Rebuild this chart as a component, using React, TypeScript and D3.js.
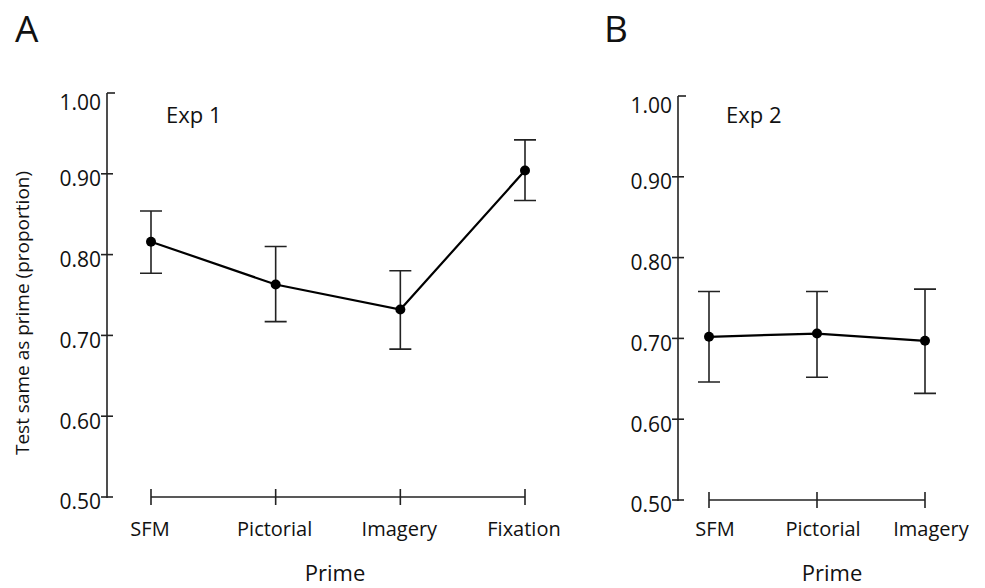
import React, { useEffect, useRef } from 'react';
import * as d3 from 'd3';

// Exp 1 (panel A)
const exp1Primes = ['SFM', 'Pictorial', 'Imagery', 'Fixation'];
const exp1Means = [0.816, 0.763, 0.732, 0.904];
const exp1Upper = [0.854, 0.810, 0.780, 0.942];
const exp1Lower = [0.777, 0.717, 0.683, 0.867];

// Exp 2 (panel B)
const exp2Primes = ['SFM', 'Pictorial', 'Imagery'];
const exp2Means = [0.702, 0.706, 0.697];
const exp2Upper = [0.758, 0.758, 0.761];
const exp2Lower = [0.646, 0.652, 0.632];

const yTicks = [0.5, 0.6, 0.7, 0.8, 0.9, 1.0];

const FONT = "'Open Sans', 'Liberation Sans', sans-serif";
const INK = '#111';
const AXIS = '#222';

const App = () => {
    const svgRef = useRef<SVGSVGElement>(null);

    useEffect(() => {
        const svg = d3.select(svgRef.current);
        svg.selectAll('*').remove();

        const drawPanel = (opts: any) => {
            const { letter, letterX, title, titleX, primes, means, upper, lower,
                yAxisX, yTop, yBottom, xLeft, xRight, labelDx, primeX, showYTitle } = opts;

            const y = d3.scaleLinear().domain([0.5, 1.0]).range([yBottom, yTop]);
            const x = d3.scalePoint<string>().domain(primes).range([xLeft, xRight]);

            const g = svg.append('g');

            //panel letter
            g.append('text')
                .attr('x', letterX)
                .attr('y', 42)
                .attr('font-family', FONT)
                .attr('font-size', 37)
                .attr('fill', INK)
                .text(letter);

            //y axis line
            g.append('line')
                .attr('x1', yAxisX).attr('x2', yAxisX)
                .attr('y1', y(1.0)).attr('y2', y(0.5) + 1)
                .attr('stroke', AXIS).attr('stroke-width', 1.6);

            //y ticks, crossing the axis (top one only on the right)
            g.selectAll('.ytick')
                .data(yTicks)
                .enter().append('line')
                .attr('x1', d => (d === 1.0 ? yAxisX : yAxisX - 6))
                .attr('x2', d => (d === 1.0 ? yAxisX + 8 : yAxisX + 6))
                .attr('y1', d => y(d)).attr('y2', d => y(d))
                .attr('stroke', AXIS).attr('stroke-width', 1.6);

            g.selectAll('.ylab')
                .data(yTicks)
                .enter().append('text')
                .attr('x', yAxisX - 6)
                .attr('y', d => y(d) + (d === 1.0 ? 10 : 5))
                .attr('dy', '0.35em')
                .attr('text-anchor', 'end')
                .attr('font-family', FONT)
                .attr('font-size', 21)
                .attr('fill', INK)
                .text(d => d3.format('.2f')(d));

            //x axis line and ticks
            const xBase = y(0.5);
            g.append('line')
                .attr('x1', xLeft).attr('x2', xRight)
                .attr('y1', xBase).attr('y2', xBase)
                .attr('stroke', AXIS).attr('stroke-width', 1.6);

            g.selectAll('.xtick')
                .data(primes)
                .enter().append('line')
                .attr('x1', d => x(d)).attr('x2', d => x(d))
                .attr('y1', xBase - 8).attr('y2', xBase + 8)
                .attr('stroke', AXIS).attr('stroke-width', 1.6);

            g.selectAll('.xlab')
                .data(primes)
                .enter().append('text')
                .attr('x', d => (x(d) as number) + labelDx)
                .attr('y', 536)
                .attr('text-anchor', 'middle')
                .attr('font-family', FONT)
                .attr('font-size', 20)
                .attr('fill', INK)
                .text(d => d);

            //x axis title
            g.append('text')
                .attr('x', primeX)
                .attr('y', 581)
                .attr('text-anchor', 'middle')
                .attr('font-family', FONT)
                .attr('font-size', 22)
                .attr('fill', INK)
                .text('Prime');

            //panel title
            g.append('text')
                .attr('x', titleX)
                .attr('y', 123)
                .attr('font-family', FONT)
                .attr('font-size', 22)
                .attr('fill', INK)
                .text(title);

            const pts = primes.map((p: string, i: number) => ({
                p, m: means[i], hi: upper[i], lo: lower[i]
            }));

            //error bars
            g.selectAll('.err')
                .data(pts)
                .enter().append('path')
                .attr('fill', 'none')
                .attr('stroke', AXIS)
                .attr('stroke-width', 1.6)
                .attr('d', (d: any) => {
                    const cx = x(d.p) as number;
                    return `M${cx - 11},${y(d.hi)}H${cx + 11}M${cx},${y(d.hi)}V${y(d.lo)}M${cx - 11},${y(d.lo)}H${cx + 11}`;
                });

            //mean line
            const line = d3.line<any>()
                .x(d => x(d.p) as number)
                .y(d => y(d.m));

            g.append('path')
                .datum(pts)
                .attr('fill', 'none')
                .attr('stroke', '#000')
                .attr('stroke-width', 2.2)
                .attr('d', line);

            g.selectAll('.dot')
                .data(pts)
                .enter().append('circle')
                .attr('cx', (d: any) => x(d.p))
                .attr('cy', (d: any) => y(d.m))
                .attr('r', 5)
                .attr('fill', '#000');

            if (showYTitle) {
                g.append('text')
                    .attr('transform', `translate(29, ${(y(0.5) + y(1.0)) / 2 + 18}) rotate(-90)`)
                    .attr('text-anchor', 'middle')
                    .attr('font-family', FONT)
                    .attr('font-size', 19)
                    .attr('fill', INK)
                    .text('Test same as prime (proportion)');
            }
        };

        drawPanel({
            letter: 'A', letterX: 15, title: 'Exp 1', titleX: 166,
            primes: exp1Primes, means: exp1Means, upper: exp1Upper, lower: exp1Lower,
            yAxisX: 107, yTop: 93, yBottom: 497, xLeft: 151, xRight: 525,
            labelDx: -1, primeX: 335, showYTitle: true
        });

        drawPanel({
            letter: 'B', letterX: 604, title: 'Exp 2', titleX: 726,
            primes: exp2Primes, means: exp2Means, upper: exp2Upper, lower: exp2Lower,
            yAxisX: 678, yTop: 96, yBottom: 500, xLeft: 709, xRight: 925,
            labelDx: 6, primeX: 832, showYTitle: false
        });
    }, []);

    return (
        <svg
            ref={svgRef}
            width={985}
            height={588}
            style={{ position: 'absolute', left: 0, top: 0, background: '#fff', display: 'block' }}
        ></svg>
    );
};

export default App;
